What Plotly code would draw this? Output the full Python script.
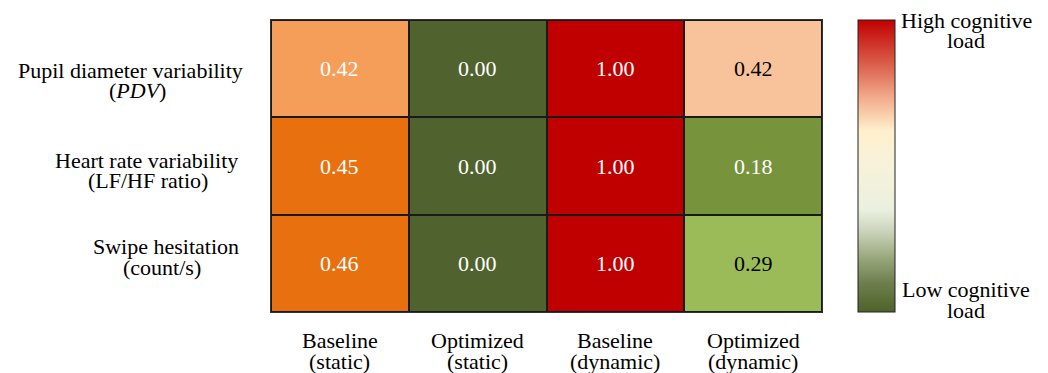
import plotly.graph_objects as go

# ---- data ----
conditions = ["Baseline (static)", "Optimized (static)", "Baseline (dynamic)", "Optimized (dynamic)"]
cond_line1 = ["Baseline", "Optimized", "Baseline", "Optimized"]
cond_line2 = ["(static)", "(static)", "(dynamic)", "(dynamic)"]
metrics = ["PDV", "LF/HF", "Swipe"]
metric_line1 = ["Pupil diameter variability", "Heart rate variability", "Swipe hesitation"]
metric_line2 = ["(<i>PDV</i>)", "(LF/HF ratio)", "(count/s)"]
pdv_values = [0.42, 0.00, 1.00, 0.42]
hrv_values = [0.45, 0.00, 1.00, 0.18]
swipe_values = [0.46, 0.00, 1.00, 0.29]
legend_high = ["High cognitive", "load"]
legend_low = ["Low cognitive", "load"]

# ---- styles ----
FONT = "Liberation Serif, Times New Roman, DejaVu Serif, serif"
cell_colors = [
    ["#F59E5A", "#50622D", "#C00000", "#F8C39A"],
    ["#E8700F", "#50622D", "#C00000", "#77933C"],
    ["#E8700F", "#50622D", "#C00000", "#9BBB59"],
]
text_colors = [
    ["white", "white", "white", "black"],
    ["white", "white", "white", "white"],
    ["white", "white", "white", "black"],
]
gradient = [
    [0.0, "#4F6228"], [0.10, "#6E7F4E"], [0.18, "#96A578"], [0.27, "#C8D1B7"],
    [0.35, "#EAF0DF"], [0.50, "#F7F2DA"], [0.62, "#FFF0CC"], [0.73, "#F2AE8E"],
    [0.84, "#DC6450"], [1.0, "#C00000"],
]

values = [pdv_values, hrv_values, swipe_values]

# page offset of the browser's default body margin
OFF = 8
L, T = 271 - OFF, 20 - OFF

# discrete colour indices for each cell
palette = []
z_idx = []
for r, row in enumerate(cell_colors):
    zr = []
    for c, col in enumerate(row):
        if col not in palette:
            palette.append(col)
        zr.append(palette.index(col))
    z_idx.append(zr)
n = len(palette)
dscale = []
for i, col in enumerate(palette):
    dscale.append([i / n, col])
    dscale.append([(i + 1) / n, col])

fig = go.Figure()
fig.add_trace(go.Heatmap(
    z=z_idx, x=conditions, y=metrics, zmin=-0.5, zmax=n - 0.5,
    colorscale=dscale, showscale=False, xgap=2, ygap=2,
    customdata=values, hovertemplate="%{customdata:.2f}<extra></extra>",
))
# continuous colour bar
fig.add_trace(go.Scatter(
    x=[None], y=[None], mode="markers", showlegend=False,
    marker=dict(color=[0], cmin=0, cmax=1, colorscale=gradient, showscale=True,
                colorbar=dict(thickness=37, len=292, lenmode="pixels", x=1.0653,
                              xanchor="left", xpad=0, y=0.5, yanchor="middle", ypad=0,
                              outlinewidth=1, outlinecolor="#222", showticklabels=False,
                              ticks="")),
))

ann = []
for r, m in enumerate(metrics):
    for c, cnd in enumerate(conditions):
        ann.append(dict(x=cnd, y=m, xref="x", yref="y", text=f"{values[r][c]:.2f}",
                        showarrow=False, font=dict(family=FONT, size=22, color=text_colors[r][c])))

# row labels (two lines each)
row_x = [[130, 137], [146, 148], [166, 162]]
row_shift = [[-1.5, -21.5], [6, -14], [17, -4]]
for r, m in enumerate(metrics):
    for k, txt in enumerate([metric_line1[r], metric_line2[r]]):
        ann.append(dict(x=0, xref="paper", xshift=row_x[r][k] - 271, y=m, yref="y",
                        yshift=row_shift[r][k], text=txt, showarrow=False,
                        xanchor="center", yanchor="middle",
                        font=dict(family=FONT, size=22, color="black")))

# column labels
for c, cnd in enumerate(conditions):
    for k, txt in enumerate([cond_line1[c], cond_line2[c]]):
        ann.append(dict(x=cnd, xref="x", y=0, yref="paper", yshift=[-28, -49][k],
                        text=txt, showarrow=False, xanchor="center", yanchor="middle",
                        font=dict(family=FONT, size=22, color="black")))

# colour bar labels
for k, txt in enumerate(legend_high):
    ann.append(dict(x=1, xref="paper", xshift=144, y=1, yref="paper", yshift=[0, -20][k],
                    text=txt, showarrow=False, xanchor="center", yanchor="middle",
                    font=dict(family=FONT, size=22, color="black")))
for k, txt in enumerate(legend_low):
    ann.append(dict(x=1, xref="paper", xshift=144, y=0, yref="paper", yshift=[23, 2][k],
                    text=txt, showarrow=False, xanchor="center", yanchor="middle",
                    font=dict(family=FONT, size=22, color="black")))

fig.update_layout(
    width=1048 - OFF, height=373 - OFF,
    margin=dict(l=L, r=226, t=T, b=61),
    paper_bgcolor="white", plot_bgcolor="#1a1a1a",
    annotations=ann, showlegend=False,
    font=dict(family=FONT, size=22, color="black"),
)
fig.update_xaxes(showticklabels=False, ticks="", showgrid=False, zeroline=False,
                 showline=True, mirror=True, linecolor="#333", linewidth=1,
                 range=[-0.5, 3.5])
fig.update_yaxes(showticklabels=False, ticks="", showgrid=False, zeroline=False,
                 showline=True, mirror=True, linecolor="#333", linewidth=1,
                 autorange="reversed")

fig.write_html("out.html")
